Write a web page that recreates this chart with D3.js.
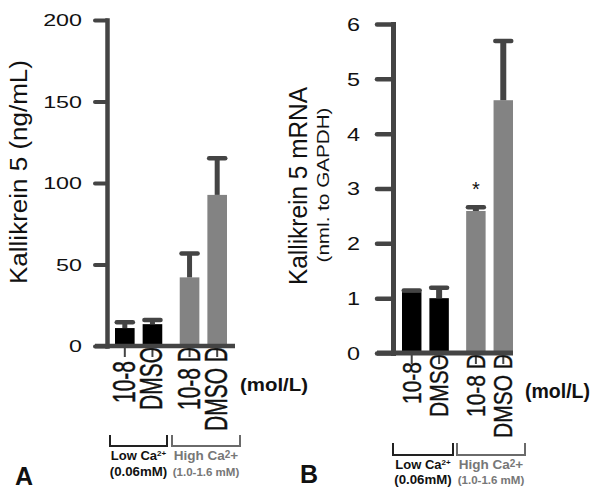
<!DOCTYPE html>
<html>
<head>
<meta charset="utf-8">
<script src="https://cdn.jsdelivr.net/npm/d3@7"></script>
<style>
  html, body { margin: 0; padding: 0; background: #fff; }
  svg { display: block; font-family: "Liberation Sans", Arial, sans-serif; }
</style>
</head>
<body>
<svg id="chart" width="602" height="496"></svg>
<script>
// ---------------- data ----------------
const categories = ["10-8", "DMSO", "10-8 D", "DMSO D"];
const categoryGroup = ["Low", "Low", "High", "High"];
const categoryInner = ["a", "b", "a", "b"];
const groups = ["Low", "High"];
const innerSlots = ["a", "b"];

// Panel A: Kallikrein 5 protein (ng/mL)
const proteinValues = [11.0, 13.4, 42.1, 92.7];
const proteinErrors = [3.6, 2.5, 14.6, 22.5];
const proteinTicks = [0, 50, 100, 150, 200];

// Panel B: Kallikrein 5 mRNA (normalised to GAPDH)
const mrnaValues = [1.11, 1.00, 2.59, 4.61];
const mrnaErrors = [0.03, 0.19, 0.07, 1.08];
const mrnaTicks = [0, 1, 2, 3, 4, 5, 6];
const mrnaSignificant = [false, false, true, false];

const groupLine1 = [["Low Ca", "2+", ""], ["High Ca", "2", "+"]];
const groupLine2 = ["(0.06mM)", "(1.0-1.6 mM)"];

// ---------------- drawing ----------------
const svg = d3.select("#chart");
const AXIS = "#444";
const groupColor = { Low: "#000000", High: "#838383" };
const groupTextColor = { Low: "#111", High: "#777" };
const bracketColor = { Low: "#222", High: "#6a6a6a" };

function drawPanel(o) {
  const g = svg.append("g");
  const y = d3.scaleLinear().domain(o.domain).range(o.yRange);
  const outer = d3.scaleBand().domain(groups).range(o.outerRange).paddingInner(0.27);
  const inner = d3.scaleBand().domain(innerSlots).range([0, outer.bandwidth()]).paddingInner(0.29);
  const xLeft = i => outer(categoryGroup[i]) + inner(categoryInner[i]);
  const xCenter = i => xLeft(i) + inner.bandwidth() / 2;
  const y0 = y(0);

  // x-axis tick marks (under labels)
  categories.forEach((c, i) => {
    g.append("line")
      .attr("x1", xCenter(i)).attr("x2", xCenter(i))
      .attr("y1", y0).attr("y2", y0 + 11)
      .attr("stroke", AXIS).attr("stroke-width", 2);
  });

  // x labels (rotated)
  categories.forEach((c, i) => {
    const endY = y0 + (i === 0 ? o.firstLabelGap : 1);
    g.append("text")
      .attr("transform", `translate(${xCenter(i) + o.xlab.off},${endY}) scale(${o.xlab.sx},1) rotate(-90)`)
      .attr("text-anchor", "end")
      .attr("font-size", o.xlab.f)
      .attr("fill", "#111")
      .attr("stroke", "#111").attr("stroke-width", 0.3)
      .text(c);
  });

  // bars
  g.selectAll("rect.bar").data(o.values).join("rect")
    .attr("class", "bar")
    .attr("x", (d, i) => xLeft(i))
    .attr("width", inner.bandwidth())
    .attr("y", d => y(d))
    .attr("height", d => y0 - y(d))
    .attr("fill", (d, i) => groupColor[categoryGroup[i]]);

  // error bars (upper only)
  o.values.forEach((v, i) => {
    const cx = xCenter(i), top = y(v + o.errors[i]);
    g.append("line")
      .attr("x1", cx).attr("x2", cx).attr("y1", y(v)).attr("y2", top)
      .attr("stroke", AXIS).attr("stroke-width", o.stemW);
    const cw = inner.bandwidth() * 0.82;
    g.append("line")
      .attr("x1", cx - cw / 2).attr("x2", cx + cw / 2).attr("y1", top).attr("y2", top)
      .attr("stroke", AXIS).attr("stroke-width", 4.5).attr("stroke-linecap", "round");
    if (o.significant && o.significant[i]) {
      g.append("text")
        .attr("x", cx).attr("y", top - 11)
        .attr("text-anchor", "middle").attr("font-size", 20).attr("fill", "#111")
        .text("*");
    }
  });

  // x axis line
  g.append("line")
    .attr("x1", o.axisX - o.tickSize).attr("x2", o.xAxisEnd)
    .attr("y1", y0).attr("y2", y0)
    .attr("stroke", AXIS).attr("stroke-width", o.axisW);

  // y axis
  const ax = g.append("g").attr("transform", `translate(${o.axisX},0)`)
    .call(d3.axisLeft(y).tickValues(o.ticks).tickFormat(d3.format("d"))
      .tickSizeInner(o.tickSize).tickSizeOuter(0));
  ax.select(".domain").attr("stroke", AXIS).attr("stroke-width", o.axisW)
    .attr("stroke-linecap", "square");
  ax.selectAll(".tick line").attr("stroke", AXIS).attr("stroke-width", o.axisW - 0.5)
    .attr("stroke-linecap", "round");
  ax.selectAll(".tick text")
    .attr("x", null).attr("dy", null)
    .attr("dominant-baseline", "central")
    .attr("transform", `translate(${-o.tickLab.off},0) scale(${o.tickLab.sx},1)`)
    .attr("font-size", o.tickLab.f)
    .attr("font-family", "Liberation Sans, Arial, sans-serif")
    .attr("fill", "#111");

  // y titles
  o.titles.forEach(t => {
    g.append("text")
      .attr("transform", `translate(${t.x},${t.cy}) rotate(-90)`)
      .attr("text-anchor", "middle")
      .attr("font-size", t.f)
      .attr("textLength", t.len).attr("lengthAdjust", "spacingAndGlyphs")
      .attr("fill", "#111")
      .text(t.text);
  });

  // (mol/L)
  g.append("text")
    .attr("x", o.unit.x).attr("y", o.unit.y)
    .attr("font-size", o.unit.f).attr("font-weight", "bold")
    .attr("textLength", o.unit.len).attr("lengthAdjust", "spacingAndGlyphs")
    .attr("fill", "#111")
    .text("(mol/L)");

  // group brackets and captions
  groups.forEach((grp, gi) => {
    const [bx0, bx1] = o.brackets[gi];
    g.append("path")
      .attr("d", `M${bx0},${o.bTop}V${o.bBot}H${bx1}V${o.bTop}`)
      .attr("fill", "none").attr("stroke", bracketColor[grp]).attr("stroke-width", 2);
    const cx = (bx0 + bx1) / 2;
    const l1 = groupLine1[gi];
    const t1 = g.append("text")
      .attr("transform", `translate(${cx},${o.cap1})`)
      .attr("text-anchor", "middle").attr("font-weight", "bold")
      .attr("fill", groupTextColor[grp]);
    if (grp === "Low") {
      t1.append("tspan").attr("font-size", 13).text(l1[0]);
      t1.append("tspan").attr("font-size", 8).attr("dy", -4).text(l1[1]);
    } else {
      t1.append("tspan").attr("font-size", 13.5).text(l1[0]);
      t1.append("tspan").attr("font-size", 10).attr("dy", -2).text(l1[1]);
      t1.append("tspan").attr("font-size", 13.5).attr("dy", 2).text(l1[2]);
    }
    g.append("text")
      .attr("transform", `translate(${cx},${o.cap2}) scale(${grp === "Low" ? 1.02 : 1.1},1)`)
      .attr("text-anchor", "middle").attr("font-weight", "bold")
      .attr("font-size", grp === "Low" ? 13 : 10.5)
      .attr("fill", groupTextColor[grp])
      .text(groupLine2[gi]);
  });

  // panel letter
  g.append("text")
    .attr("x", o.letter.x).attr("y", o.letter.y)
    .attr("font-size", 25).attr("font-weight", "bold").attr("fill", "#111")
    .text(o.letter.t);
}

drawPanel({
  domain: [0, 200], yRange: [346, 20], ticks: proteinTicks,
  values: proteinValues, errors: proteinErrors,
  outerRange: [115, 227], axisX: 107, tickSize: 12, axisW: 4.5, xAxisEnd: 235, stemW: 5,
  tickLab: { f: 17, sx: 1.37, off: 25 },
  xlab: { f: 21, sx: 1.45, off: 10 }, firstLabelGap: 15,
  titles: [{ text: "Kallikrein 5 (ng/mL)", f: 23, len: 224, x: 27, cy: 172 }],
  unit: { x: 240, y: 391, f: 17.5, len: 68 },
  brackets: [[110, 167], [172, 240]], bTop: 435, bBot: 446, cap1: 460, cap2: 476,
  letter: { x: 15, y: 485, t: "A" }
});

drawPanel({
  domain: [0, 6], yRange: [353, 24], ticks: mrnaTicks,
  values: mrnaValues, errors: mrnaErrors, significant: mrnaSignificant,
  outerRange: [402, 513], axisX: 393, tickSize: 16, axisW: 5, xAxisEnd: 513, stemW: 6,
  tickLab: { f: 18, sx: 1.3, off: 33 },
  xlab: { f: 21, sx: 1.27, off: 9 }, firstLabelGap: 9,
  titles: [
    { text: "Kallikrein 5 mRNA", f: 25, len: 198, x: 307, cy: 186 },
    { text: "(nml. to GAPDH)", f: 16.5, len: 155, x: 329, cy: 185 }
  ],
  unit: { x: 525, y: 398, f: 20, len: 65 },
  brackets: [[393, 453], [457, 525]], bTop: 443, bBot: 455, cap1: 469, cap2: 484,
  letter: { x: 300, y: 483, t: "B" }
});
</script>
</body>
</html>
